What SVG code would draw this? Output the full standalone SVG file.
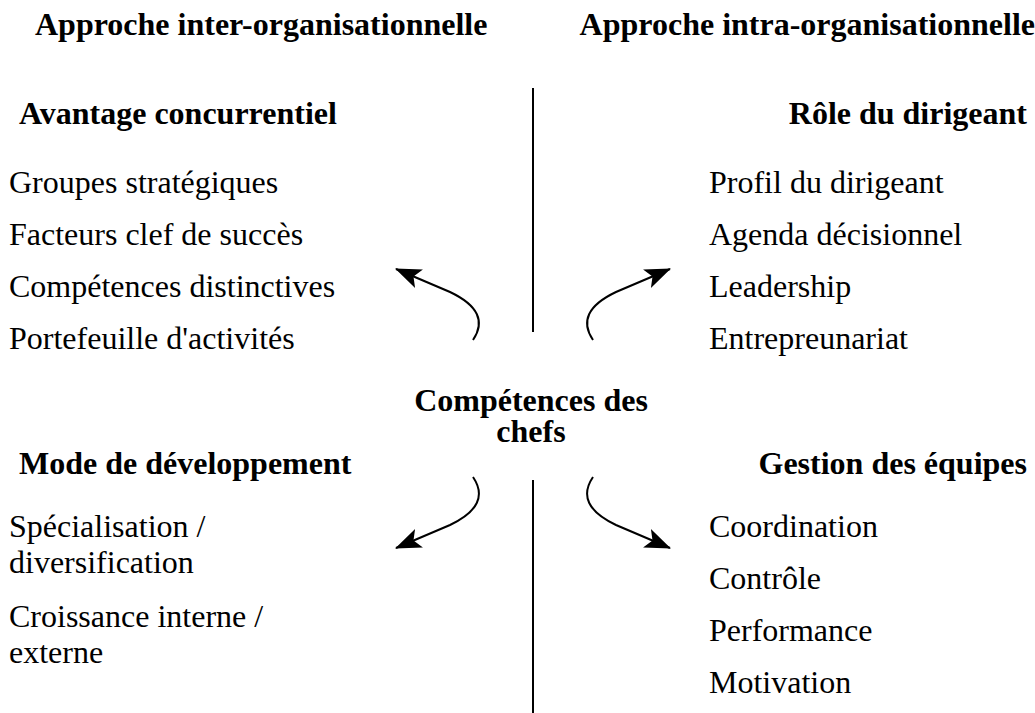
<svg xmlns="http://www.w3.org/2000/svg" width="1035" height="713" viewBox="0 0 1035 713">
<style>
text{font-family:"Liberation Serif","Times New Roman",serif;font-size:32px;fill:#000}
.b{font-weight:bold}
.r{text-anchor:end}
.c{text-anchor:middle}
.ln{stroke:#000;stroke-width:2;fill:none}
.ar{stroke:#000;stroke-width:2;fill:none;marker-end:url(#ah)}
</style>
<defs>
<marker id="ah" markerUnits="userSpaceOnUse" markerWidth="28" markerHeight="22" viewBox="0 -11 28 22" refX="25" refY="0" orient="auto">
<path d="M0,-10 L26,0 L0,10 L6,0 Z" fill="#000"/>
</marker>
</defs>
<rect width="1035" height="713" fill="#fff"/>
<g id="titles">
<text class="b" x="35" y="35">Approche inter-organisationnelle</text>
<text class="b r" x="1035" y="35">Approche intra-organisationnelle</text>
</g>
<g id="avantage">
<text class="b" x="19" y="124">Avantage concurrentiel</text>
<text x="9" y="193">Groupes stratégiques</text>
<text x="9" y="245">Facteurs clef de succès</text>
<text x="9" y="297">Compétences distinctives</text>
<text x="9" y="349">Portefeuille d'activités</text>
</g>
<g id="role">
<text class="b r" x="1027" y="124">Rôle du dirigeant</text>
<text x="709" y="193">Profil du dirigeant</text>
<text x="709" y="245">Agenda décisionnel</text>
<text x="709" y="297">Leadership</text>
<text x="709" y="349">Entrepreunariat</text>
</g>
<g id="centre">
<text class="b c" x="531" y="411">Compétences des</text>
<text class="b c" x="531" y="442">chefs</text>
</g>
<g id="mode">
<text class="b" x="19" y="474">Mode de développement</text>
<text x="9" y="537">Spécialisation /</text>
<text x="9" y="573">diversification</text>
<text x="9" y="627">Croissance interne /</text>
<text x="9" y="663">externe</text>
</g>
<g id="gestion">
<text class="b r" x="1027" y="474">Gestion des équipes</text>
<text x="709" y="537">Coordination</text>
<text x="709" y="589">Contrôle</text>
<text x="709" y="641">Performance</text>
<text x="709" y="693">Motivation</text>
</g>
<g id="connectors">
<line class="ln" x1="533" y1="88" x2="533" y2="332"/>
<line class="ln" x1="533" y1="480" x2="533" y2="713"/>
<path class="ar" d="M473,340 Q492,312 450,292 L396,269"/>
<path class="ar" d="M593,340 Q574,312 616,292 L670,269"/>
<path class="ar" d="M473,477 Q492,505 450,525 L396,548"/>
<path class="ar" d="M593,477 Q574,505 616,525 L670,548"/>
</g>
</svg>
